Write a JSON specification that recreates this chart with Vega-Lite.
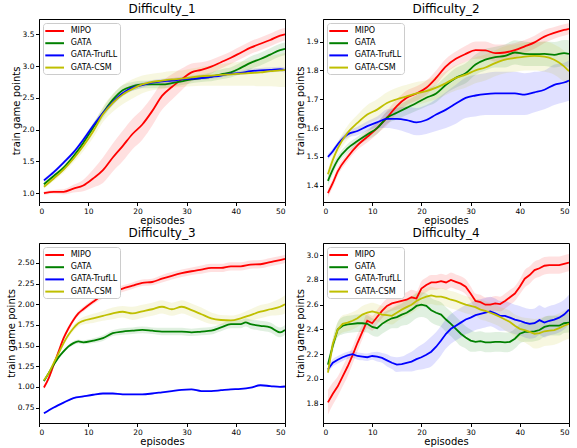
{
"$schema":"https://vega.github.io/schema/vega-lite/v6.json",
"padding":{"left":5,"top":2,"right":2,"bottom":0},
"background":"white",
"config":{
 "view":{"stroke":"black","strokeWidth":1},
 "font":"DejaVu Sans",
 "axis":{"labelFont":"DejaVu Sans","titleFont":"DejaVu Sans","labelFontSize":7.5,"titleFontSize":10,"titleFontWeight":"normal","domainColor":"black","tickColor":"black","labelColor":"black","titleColor":"black","grid":false,"tickSize":3.5,"labelPadding":1.5,"titlePadding":1,"labelOverlap":false},
 "title":{"font":"DejaVu Sans","fontSize":12,"fontWeight":"normal","offset":3,"color":"black"},
 "legend":{"orient":"top-left","offset":4,"fillColor":"white","strokeColor":"#cccccc","padding":2,"cornerRadius":3,"symbolType":"M-1.14,0L2.6,0","symbolSize":100,"symbolStrokeWidth":2,"labelFontSize":8,"labelFont":"DejaVu Sans","labelColor":"black","rowPadding":2.2,"labelOffset":13.7}
},
"datasets":{
"d1":[
{"m":"MIPO","e":1,"v":1.00,"lo":0.97,"hi":1.03},{"m":"MIPO","e":3,"v":1.02,"lo":0.99,"hi":1.05},{"m":"MIPO","e":5,"v":1.02,"lo":0.98,"hi":1.06},{"m":"MIPO","e":7,"v":1.07,"lo":1.01,"hi":1.13},{"m":"MIPO","e":9,"v":1.12,"lo":1.03,"hi":1.21},{"m":"MIPO","e":11,"v":1.23,"lo":1.09,"hi":1.37},{"m":"MIPO","e":13,"v":1.36,"lo":1.16,"hi":1.56},{"m":"MIPO","e":15,"v":1.56,"lo":1.34,"hi":1.78},{"m":"MIPO","e":17,"v":1.74,"lo":1.50,"hi":1.98},{"m":"MIPO","e":19,"v":1.93,"lo":1.69,"hi":2.17},{"m":"MIPO","e":21,"v":2.08,"lo":1.84,"hi":2.32},{"m":"MIPO","e":23,"v":2.29,"lo":2.06,"hi":2.52},{"m":"MIPO","e":25,"v":2.53,"lo":2.31,"hi":2.75},{"m":"MIPO","e":27,"v":2.67,"lo":2.47,"hi":2.87},{"m":"MIPO","e":29,"v":2.79,"lo":2.62,"hi":2.96},{"m":"MIPO","e":31,"v":2.90,"lo":2.76,"hi":3.04},{"m":"MIPO","e":33,"v":2.94,"lo":2.82,"hi":3.06},{"m":"MIPO","e":35,"v":2.99,"lo":2.88,"hi":3.10},{"m":"MIPO","e":37,"v":3.06,"lo":2.96,"hi":3.16},{"m":"MIPO","e":39,"v":3.13,"lo":3.03,"hi":3.23},{"m":"MIPO","e":41,"v":3.21,"lo":3.11,"hi":3.31},{"m":"MIPO","e":43,"v":3.29,"lo":3.19,"hi":3.39},{"m":"MIPO","e":45,"v":3.35,"lo":3.25,"hi":3.45},{"m":"MIPO","e":47,"v":3.41,"lo":3.31,"hi":3.51},{"m":"MIPO","e":49,"v":3.48,"lo":3.38,"hi":3.58},{"m":"MIPO","e":50,"v":3.50,"lo":3.40,"hi":3.60},
{"m":"GATA","e":1,"v":1.14,"lo":1.11,"hi":1.17},{"m":"GATA","e":3,"v":1.27,"lo":1.24,"hi":1.30},{"m":"GATA","e":5,"v":1.40,"lo":1.36,"hi":1.44},{"m":"GATA","e":7,"v":1.58,"lo":1.53,"hi":1.63},{"m":"GATA","e":9,"v":1.79,"lo":1.73,"hi":1.85},{"m":"GATA","e":11,"v":2.03,"lo":1.96,"hi":2.10},{"m":"GATA","e":13,"v":2.26,"lo":2.18,"hi":2.34},{"m":"GATA","e":15,"v":2.47,"lo":2.39,"hi":2.55},{"m":"GATA","e":17,"v":2.62,"lo":2.54,"hi":2.70},{"m":"GATA","e":19,"v":2.68,"lo":2.61,"hi":2.75},{"m":"GATA","e":21,"v":2.71,"lo":2.65,"hi":2.77},{"m":"GATA","e":23,"v":2.71,"lo":2.65,"hi":2.77},{"m":"GATA","e":25,"v":2.71,"lo":2.65,"hi":2.77},{"m":"GATA","e":27,"v":2.73,"lo":2.67,"hi":2.79},{"m":"GATA","e":29,"v":2.76,"lo":2.70,"hi":2.82},{"m":"GATA","e":31,"v":2.79,"lo":2.73,"hi":2.85},{"m":"GATA","e":33,"v":2.81,"lo":2.75,"hi":2.87},{"m":"GATA","e":35,"v":2.83,"lo":2.76,"hi":2.90},{"m":"GATA","e":37,"v":2.87,"lo":2.79,"hi":2.95},{"m":"GATA","e":39,"v":2.90,"lo":2.82,"hi":2.98},{"m":"GATA","e":41,"v":2.97,"lo":2.88,"hi":3.06},{"m":"GATA","e":43,"v":3.05,"lo":2.95,"hi":3.15},{"m":"GATA","e":45,"v":3.11,"lo":3.01,"hi":3.21},{"m":"GATA","e":47,"v":3.18,"lo":3.08,"hi":3.28},{"m":"GATA","e":49,"v":3.25,"lo":3.15,"hi":3.35},{"m":"GATA","e":50,"v":3.27,"lo":3.17,"hi":3.37},
{"m":"GATA-TrufLL","e":1,"v":1.20,"lo":1.17,"hi":1.23},{"m":"GATA-TrufLL","e":3,"v":1.33,"lo":1.30,"hi":1.36},{"m":"GATA-TrufLL","e":5,"v":1.48,"lo":1.45,"hi":1.51},{"m":"GATA-TrufLL","e":7,"v":1.64,"lo":1.61,"hi":1.67},{"m":"GATA-TrufLL","e":9,"v":1.84,"lo":1.80,"hi":1.88},{"m":"GATA-TrufLL","e":11,"v":2.06,"lo":2.02,"hi":2.10},{"m":"GATA-TrufLL","e":13,"v":2.26,"lo":2.22,"hi":2.30},{"m":"GATA-TrufLL","e":15,"v":2.43,"lo":2.38,"hi":2.48},{"m":"GATA-TrufLL","e":17,"v":2.57,"lo":2.52,"hi":2.62},{"m":"GATA-TrufLL","e":19,"v":2.66,"lo":2.61,"hi":2.71},{"m":"GATA-TrufLL","e":21,"v":2.70,"lo":2.66,"hi":2.74},{"m":"GATA-TrufLL","e":23,"v":2.74,"lo":2.70,"hi":2.78},{"m":"GATA-TrufLL","e":25,"v":2.76,"lo":2.72,"hi":2.80},{"m":"GATA-TrufLL","e":27,"v":2.77,"lo":2.73,"hi":2.81},{"m":"GATA-TrufLL","e":29,"v":2.79,"lo":2.75,"hi":2.83},{"m":"GATA-TrufLL","e":31,"v":2.80,"lo":2.77,"hi":2.83},{"m":"GATA-TrufLL","e":33,"v":2.81,"lo":2.78,"hi":2.84},{"m":"GATA-TrufLL","e":35,"v":2.83,"lo":2.80,"hi":2.86},{"m":"GATA-TrufLL","e":37,"v":2.85,"lo":2.82,"hi":2.88},{"m":"GATA-TrufLL","e":39,"v":2.88,"lo":2.85,"hi":2.91},{"m":"GATA-TrufLL","e":41,"v":2.89,"lo":2.86,"hi":2.92},{"m":"GATA-TrufLL","e":43,"v":2.92,"lo":2.88,"hi":2.96},{"m":"GATA-TrufLL","e":45,"v":2.93,"lo":2.89,"hi":2.97},{"m":"GATA-TrufLL","e":47,"v":2.94,"lo":2.90,"hi":2.98},{"m":"GATA-TrufLL","e":49,"v":2.95,"lo":2.91,"hi":2.99},{"m":"GATA-TrufLL","e":50,"v":2.94,"lo":2.90,"hi":2.98},
{"m":"GATA-CSM","e":1,"v":1.10,"lo":1.07,"hi":1.13},{"m":"GATA-CSM","e":3,"v":1.23,"lo":1.19,"hi":1.27},{"m":"GATA-CSM","e":5,"v":1.37,"lo":1.32,"hi":1.42},{"m":"GATA-CSM","e":7,"v":1.54,"lo":1.48,"hi":1.60},{"m":"GATA-CSM","e":9,"v":1.74,"lo":1.66,"hi":1.82},{"m":"GATA-CSM","e":11,"v":1.97,"lo":1.87,"hi":2.07},{"m":"GATA-CSM","e":13,"v":2.24,"lo":2.12,"hi":2.36},{"m":"GATA-CSM","e":15,"v":2.42,"lo":2.28,"hi":2.56},{"m":"GATA-CSM","e":17,"v":2.55,"lo":2.40,"hi":2.70},{"m":"GATA-CSM","e":19,"v":2.64,"lo":2.49,"hi":2.79},{"m":"GATA-CSM","e":21,"v":2.71,"lo":2.57,"hi":2.85},{"m":"GATA-CSM","e":23,"v":2.75,"lo":2.62,"hi":2.88},{"m":"GATA-CSM","e":25,"v":2.77,"lo":2.64,"hi":2.90},{"m":"GATA-CSM","e":27,"v":2.79,"lo":2.66,"hi":2.92},{"m":"GATA-CSM","e":29,"v":2.80,"lo":2.67,"hi":2.93},{"m":"GATA-CSM","e":31,"v":2.82,"lo":2.68,"hi":2.96},{"m":"GATA-CSM","e":33,"v":2.84,"lo":2.69,"hi":2.99},{"m":"GATA-CSM","e":35,"v":2.85,"lo":2.69,"hi":3.01},{"m":"GATA-CSM","e":37,"v":2.86,"lo":2.69,"hi":3.03},{"m":"GATA-CSM","e":39,"v":2.87,"lo":2.69,"hi":3.05},{"m":"GATA-CSM","e":41,"v":2.88,"lo":2.69,"hi":3.07},{"m":"GATA-CSM","e":43,"v":2.89,"lo":2.69,"hi":3.09},{"m":"GATA-CSM","e":45,"v":2.90,"lo":2.68,"hi":3.12},{"m":"GATA-CSM","e":47,"v":2.92,"lo":2.68,"hi":3.16},{"m":"GATA-CSM","e":49,"v":2.93,"lo":2.67,"hi":3.19},{"m":"GATA-CSM","e":50,"v":2.94,"lo":2.67,"hi":3.21}
],
"d2":[
{"m":"MIPO","e":1,"v":1.375,"lo":1.36,"hi":1.39},{"m":"MIPO","e":2,"v":1.41,"lo":1.395,"hi":1.425},{"m":"MIPO","e":3,"v":1.45,"lo":1.435,"hi":1.465},{"m":"MIPO","e":5,"v":1.50,"lo":1.485,"hi":1.515},{"m":"MIPO","e":7,"v":1.54,"lo":1.525,"hi":1.555},{"m":"MIPO","e":9,"v":1.57,"lo":1.55,"hi":1.59},{"m":"MIPO","e":11,"v":1.60,"lo":1.58,"hi":1.62},{"m":"MIPO","e":13,"v":1.636,"lo":1.61,"hi":1.66},{"m":"MIPO","e":15,"v":1.676,"lo":1.65,"hi":1.70},{"m":"MIPO","e":17,"v":1.705,"lo":1.68,"hi":1.73},{"m":"MIPO","e":19,"v":1.72,"lo":1.695,"hi":1.745},{"m":"MIPO","e":21,"v":1.74,"lo":1.715,"hi":1.765},{"m":"MIPO","e":23,"v":1.774,"lo":1.75,"hi":1.80},{"m":"MIPO","e":25,"v":1.814,"lo":1.79,"hi":1.84},{"m":"MIPO","e":27,"v":1.84,"lo":1.815,"hi":1.865},{"m":"MIPO","e":29,"v":1.857,"lo":1.83,"hi":1.885},{"m":"MIPO","e":31,"v":1.87,"lo":1.84,"hi":1.90},{"m":"MIPO","e":33,"v":1.869,"lo":1.84,"hi":1.90},{"m":"MIPO","e":35,"v":1.86,"lo":1.83,"hi":1.89},{"m":"MIPO","e":37,"v":1.862,"lo":1.835,"hi":1.89},{"m":"MIPO","e":39,"v":1.87,"lo":1.845,"hi":1.895},{"m":"MIPO","e":41,"v":1.883,"lo":1.86,"hi":1.905},{"m":"MIPO","e":43,"v":1.897,"lo":1.875,"hi":1.92},{"m":"MIPO","e":45,"v":1.917,"lo":1.895,"hi":1.94},{"m":"MIPO","e":47,"v":1.93,"lo":1.91,"hi":1.95},{"m":"MIPO","e":49,"v":1.94,"lo":1.92,"hi":1.96},{"m":"MIPO","e":50,"v":1.944,"lo":1.925,"hi":1.963},
{"m":"GATA","e":1,"v":1.417,"lo":1.40,"hi":1.435},{"m":"GATA","e":2,"v":1.457,"lo":1.44,"hi":1.475},{"m":"GATA","e":3,"v":1.49,"lo":1.475,"hi":1.505},{"m":"GATA","e":5,"v":1.53,"lo":1.515,"hi":1.545},{"m":"GATA","e":7,"v":1.555,"lo":1.54,"hi":1.57},{"m":"GATA","e":9,"v":1.578,"lo":1.56,"hi":1.595},{"m":"GATA","e":11,"v":1.60,"lo":1.58,"hi":1.62},{"m":"GATA","e":13,"v":1.636,"lo":1.615,"hi":1.657},{"m":"GATA","e":15,"v":1.653,"lo":1.63,"hi":1.676},{"m":"GATA","e":17,"v":1.67,"lo":1.645,"hi":1.695},{"m":"GATA","e":19,"v":1.687,"lo":1.66,"hi":1.714},{"m":"GATA","e":21,"v":1.705,"lo":1.675,"hi":1.735},{"m":"GATA","e":23,"v":1.72,"lo":1.69,"hi":1.75},{"m":"GATA","e":25,"v":1.75,"lo":1.72,"hi":1.78},{"m":"GATA","e":27,"v":1.774,"lo":1.74,"hi":1.808},{"m":"GATA","e":29,"v":1.79,"lo":1.755,"hi":1.825},{"m":"GATA","e":31,"v":1.82,"lo":1.785,"hi":1.855},{"m":"GATA","e":33,"v":1.837,"lo":1.80,"hi":1.874},{"m":"GATA","e":35,"v":1.846,"lo":1.81,"hi":1.882},{"m":"GATA","e":37,"v":1.85,"lo":1.81,"hi":1.89},{"m":"GATA","e":39,"v":1.862,"lo":1.82,"hi":1.904},{"m":"GATA","e":41,"v":1.857,"lo":1.815,"hi":1.90},{"m":"GATA","e":43,"v":1.856,"lo":1.815,"hi":1.897},{"m":"GATA","e":45,"v":1.857,"lo":1.815,"hi":1.90},{"m":"GATA","e":47,"v":1.854,"lo":1.81,"hi":1.898},{"m":"GATA","e":49,"v":1.86,"lo":1.815,"hi":1.905},{"m":"GATA","e":50,"v":1.857,"lo":1.81,"hi":1.904},
{"m":"GATA-TrufLL","e":1,"v":1.50,"lo":1.49,"hi":1.51},{"m":"GATA-TrufLL","e":2,"v":1.52,"lo":1.51,"hi":1.53},{"m":"GATA-TrufLL","e":3,"v":1.544,"lo":1.534,"hi":1.554},{"m":"GATA-TrufLL","e":5,"v":1.578,"lo":1.566,"hi":1.59},{"m":"GATA-TrufLL","e":7,"v":1.59,"lo":1.575,"hi":1.605},{"m":"GATA-TrufLL","e":9,"v":1.607,"lo":1.59,"hi":1.624},{"m":"GATA-TrufLL","e":11,"v":1.62,"lo":1.60,"hi":1.64},{"m":"GATA-TrufLL","e":13,"v":1.632,"lo":1.60,"hi":1.665},{"m":"GATA-TrufLL","e":15,"v":1.632,"lo":1.595,"hi":1.67},{"m":"GATA-TrufLL","e":17,"v":1.628,"lo":1.585,"hi":1.675},{"m":"GATA-TrufLL","e":19,"v":1.62,"lo":1.575,"hi":1.67},{"m":"GATA-TrufLL","e":21,"v":1.628,"lo":1.58,"hi":1.68},{"m":"GATA-TrufLL","e":23,"v":1.647,"lo":1.59,"hi":1.70},{"m":"GATA-TrufLL","e":25,"v":1.664,"lo":1.60,"hi":1.725},{"m":"GATA-TrufLL","e":27,"v":1.685,"lo":1.615,"hi":1.75},{"m":"GATA-TrufLL","e":29,"v":1.705,"lo":1.635,"hi":1.775},{"m":"GATA-TrufLL","e":31,"v":1.713,"lo":1.64,"hi":1.785},{"m":"GATA-TrufLL","e":33,"v":1.718,"lo":1.645,"hi":1.79},{"m":"GATA-TrufLL","e":35,"v":1.72,"lo":1.645,"hi":1.795},{"m":"GATA-TrufLL","e":37,"v":1.72,"lo":1.645,"hi":1.795},{"m":"GATA-TrufLL","e":39,"v":1.72,"lo":1.645,"hi":1.795},{"m":"GATA-TrufLL","e":41,"v":1.716,"lo":1.645,"hi":1.79},{"m":"GATA-TrufLL","e":43,"v":1.724,"lo":1.655,"hi":1.795},{"m":"GATA-TrufLL","e":45,"v":1.733,"lo":1.665,"hi":1.80},{"m":"GATA-TrufLL","e":47,"v":1.75,"lo":1.68,"hi":1.82},{"m":"GATA-TrufLL","e":49,"v":1.758,"lo":1.69,"hi":1.826},{"m":"GATA-TrufLL","e":50,"v":1.765,"lo":1.695,"hi":1.835},
{"m":"GATA-CSM","e":1,"v":1.44,"lo":1.425,"hi":1.455},{"m":"GATA-CSM","e":2,"v":1.49,"lo":1.47,"hi":1.51},{"m":"GATA-CSM","e":3,"v":1.53,"lo":1.51,"hi":1.55},{"m":"GATA-CSM","e":5,"v":1.584,"lo":1.56,"hi":1.608},{"m":"GATA-CSM","e":7,"v":1.618,"lo":1.59,"hi":1.646},{"m":"GATA-CSM","e":9,"v":1.647,"lo":1.615,"hi":1.68},{"m":"GATA-CSM","e":11,"v":1.664,"lo":1.63,"hi":1.70},{"m":"GATA-CSM","e":13,"v":1.687,"lo":1.65,"hi":1.724},{"m":"GATA-CSM","e":15,"v":1.70,"lo":1.66,"hi":1.74},{"m":"GATA-CSM","e":17,"v":1.71,"lo":1.67,"hi":1.75},{"m":"GATA-CSM","e":19,"v":1.72,"lo":1.68,"hi":1.76},{"m":"GATA-CSM","e":21,"v":1.728,"lo":1.69,"hi":1.766},{"m":"GATA-CSM","e":23,"v":1.74,"lo":1.70,"hi":1.78},{"m":"GATA-CSM","e":25,"v":1.756,"lo":1.715,"hi":1.797},{"m":"GATA-CSM","e":27,"v":1.774,"lo":1.73,"hi":1.818},{"m":"GATA-CSM","e":29,"v":1.785,"lo":1.74,"hi":1.83},{"m":"GATA-CSM","e":31,"v":1.80,"lo":1.755,"hi":1.845},{"m":"GATA-CSM","e":33,"v":1.81,"lo":1.765,"hi":1.855},{"m":"GATA-CSM","e":35,"v":1.825,"lo":1.78,"hi":1.87},{"m":"GATA-CSM","e":37,"v":1.837,"lo":1.79,"hi":1.884},{"m":"GATA-CSM","e":39,"v":1.843,"lo":1.795,"hi":1.89},{"m":"GATA-CSM","e":41,"v":1.848,"lo":1.80,"hi":1.896},{"m":"GATA-CSM","e":43,"v":1.85,"lo":1.80,"hi":1.90},{"m":"GATA-CSM","e":45,"v":1.848,"lo":1.795,"hi":1.90},{"m":"GATA-CSM","e":47,"v":1.837,"lo":1.785,"hi":1.89},{"m":"GATA-CSM","e":49,"v":1.814,"lo":1.76,"hi":1.868},{"m":"GATA-CSM","e":50,"v":1.797,"lo":1.745,"hi":1.85}
],
"d3":[
{"m":"MIPO","e":1,"v":0.993,"lo":0.97,"hi":1.02},{"m":"MIPO","e":2,"v":1.11,"lo":1.085,"hi":1.135},{"m":"MIPO","e":3,"v":1.27,"lo":1.24,"hi":1.30},{"m":"MIPO","e":4,"v":1.43,"lo":1.40,"hi":1.46},{"m":"MIPO","e":5,"v":1.59,"lo":1.56,"hi":1.62},{"m":"MIPO","e":6,"v":1.71,"lo":1.68,"hi":1.74},{"m":"MIPO","e":7,"v":1.81,"lo":1.78,"hi":1.84},{"m":"MIPO","e":8,"v":1.89,"lo":1.86,"hi":1.92},{"m":"MIPO","e":9,"v":1.94,"lo":1.91,"hi":1.97},{"m":"MIPO","e":11,"v":2.03,"lo":2.00,"hi":2.06},{"m":"MIPO","e":13,"v":2.11,"lo":2.07,"hi":2.15},{"m":"MIPO","e":15,"v":2.15,"lo":2.11,"hi":2.19},{"m":"MIPO","e":17,"v":2.19,"lo":2.15,"hi":2.23},{"m":"MIPO","e":19,"v":2.225,"lo":2.185,"hi":2.265},{"m":"MIPO","e":21,"v":2.26,"lo":2.22,"hi":2.30},{"m":"MIPO","e":23,"v":2.27,"lo":2.23,"hi":2.31},{"m":"MIPO","e":25,"v":2.31,"lo":2.265,"hi":2.355},{"m":"MIPO","e":27,"v":2.345,"lo":2.30,"hi":2.39},{"m":"MIPO","e":29,"v":2.376,"lo":2.33,"hi":2.42},{"m":"MIPO","e":31,"v":2.40,"lo":2.355,"hi":2.445},{"m":"MIPO","e":33,"v":2.42,"lo":2.37,"hi":2.47},{"m":"MIPO","e":35,"v":2.44,"lo":2.39,"hi":2.49},{"m":"MIPO","e":37,"v":2.44,"lo":2.39,"hi":2.49},{"m":"MIPO","e":39,"v":2.46,"lo":2.41,"hi":2.51},{"m":"MIPO","e":41,"v":2.46,"lo":2.41,"hi":2.51},{"m":"MIPO","e":43,"v":2.48,"lo":2.43,"hi":2.53},{"m":"MIPO","e":45,"v":2.485,"lo":2.435,"hi":2.535},{"m":"MIPO","e":47,"v":2.51,"lo":2.46,"hi":2.56},{"m":"MIPO","e":49,"v":2.535,"lo":2.485,"hi":2.585},{"m":"MIPO","e":50,"v":2.55,"lo":2.50,"hi":2.60},
{"m":"GATA","e":1,"v":1.07,"lo":1.05,"hi":1.09},{"m":"GATA","e":2,"v":1.17,"lo":1.15,"hi":1.19},{"m":"GATA","e":3,"v":1.27,"lo":1.25,"hi":1.29},{"m":"GATA","e":4,"v":1.36,"lo":1.34,"hi":1.38},{"m":"GATA","e":5,"v":1.43,"lo":1.41,"hi":1.45},{"m":"GATA","e":6,"v":1.49,"lo":1.47,"hi":1.51},{"m":"GATA","e":7,"v":1.53,"lo":1.505,"hi":1.555},{"m":"GATA","e":8,"v":1.55,"lo":1.525,"hi":1.575},{"m":"GATA","e":9,"v":1.54,"lo":1.515,"hi":1.565},{"m":"GATA","e":11,"v":1.56,"lo":1.53,"hi":1.59},{"m":"GATA","e":13,"v":1.59,"lo":1.555,"hi":1.625},{"m":"GATA","e":15,"v":1.65,"lo":1.615,"hi":1.685},{"m":"GATA","e":17,"v":1.67,"lo":1.63,"hi":1.71},{"m":"GATA","e":19,"v":1.68,"lo":1.64,"hi":1.72},{"m":"GATA","e":21,"v":1.69,"lo":1.65,"hi":1.73},{"m":"GATA","e":23,"v":1.68,"lo":1.64,"hi":1.72},{"m":"GATA","e":25,"v":1.67,"lo":1.625,"hi":1.715},{"m":"GATA","e":27,"v":1.67,"lo":1.625,"hi":1.715},{"m":"GATA","e":29,"v":1.67,"lo":1.625,"hi":1.715},{"m":"GATA","e":31,"v":1.66,"lo":1.615,"hi":1.705},{"m":"GATA","e":33,"v":1.67,"lo":1.625,"hi":1.715},{"m":"GATA","e":35,"v":1.68,"lo":1.635,"hi":1.725},{"m":"GATA","e":37,"v":1.72,"lo":1.675,"hi":1.765},{"m":"GATA","e":39,"v":1.76,"lo":1.71,"hi":1.81},{"m":"GATA","e":41,"v":1.76,"lo":1.71,"hi":1.81},{"m":"GATA","e":42,"v":1.78,"lo":1.73,"hi":1.83},{"m":"GATA","e":43,"v":1.76,"lo":1.705,"hi":1.815},{"m":"GATA","e":45,"v":1.74,"lo":1.68,"hi":1.80},{"m":"GATA","e":47,"v":1.72,"lo":1.66,"hi":1.78},{"m":"GATA","e":49,"v":1.66,"lo":1.60,"hi":1.72},{"m":"GATA","e":50,"v":1.69,"lo":1.63,"hi":1.75},
{"m":"GATA-TrufLL","e":1,"v":0.68,"lo":0.67,"hi":0.69},{"m":"GATA-TrufLL","e":3,"v":0.75,"lo":0.74,"hi":0.76},{"m":"GATA-TrufLL","e":5,"v":0.81,"lo":0.80,"hi":0.82},{"m":"GATA-TrufLL","e":7,"v":0.865,"lo":0.855,"hi":0.875},{"m":"GATA-TrufLL","e":9,"v":0.885,"lo":0.875,"hi":0.895},{"m":"GATA-TrufLL","e":11,"v":0.905,"lo":0.895,"hi":0.915},{"m":"GATA-TrufLL","e":13,"v":0.92,"lo":0.91,"hi":0.93},{"m":"GATA-TrufLL","e":15,"v":0.92,"lo":0.91,"hi":0.93},{"m":"GATA-TrufLL","e":17,"v":0.91,"lo":0.90,"hi":0.92},{"m":"GATA-TrufLL","e":19,"v":0.91,"lo":0.90,"hi":0.92},{"m":"GATA-TrufLL","e":21,"v":0.91,"lo":0.90,"hi":0.92},{"m":"GATA-TrufLL","e":23,"v":0.92,"lo":0.91,"hi":0.93},{"m":"GATA-TrufLL","e":25,"v":0.935,"lo":0.925,"hi":0.945},{"m":"GATA-TrufLL","e":27,"v":0.95,"lo":0.94,"hi":0.96},{"m":"GATA-TrufLL","e":29,"v":0.965,"lo":0.955,"hi":0.975},{"m":"GATA-TrufLL","e":31,"v":0.97,"lo":0.96,"hi":0.98},{"m":"GATA-TrufLL","e":33,"v":0.95,"lo":0.94,"hi":0.96},{"m":"GATA-TrufLL","e":35,"v":0.95,"lo":0.94,"hi":0.96},{"m":"GATA-TrufLL","e":37,"v":0.96,"lo":0.95,"hi":0.97},{"m":"GATA-TrufLL","e":39,"v":0.97,"lo":0.96,"hi":0.98},{"m":"GATA-TrufLL","e":41,"v":0.975,"lo":0.965,"hi":0.985},{"m":"GATA-TrufLL","e":43,"v":0.99,"lo":0.98,"hi":1.00},{"m":"GATA-TrufLL","e":45,"v":1.02,"lo":1.01,"hi":1.03},{"m":"GATA-TrufLL","e":47,"v":1.01,"lo":1.00,"hi":1.02},{"m":"GATA-TrufLL","e":49,"v":1.00,"lo":0.99,"hi":1.01},{"m":"GATA-TrufLL","e":50,"v":1.005,"lo":0.995,"hi":1.015},
{"m":"GATA-CSM","e":1,"v":1.08,"lo":1.06,"hi":1.10},{"m":"GATA-CSM","e":2,"v":1.17,"lo":1.15,"hi":1.19},{"m":"GATA-CSM","e":3,"v":1.29,"lo":1.27,"hi":1.31},{"m":"GATA-CSM","e":4,"v":1.41,"lo":1.39,"hi":1.43},{"m":"GATA-CSM","e":5,"v":1.53,"lo":1.50,"hi":1.56},{"m":"GATA-CSM","e":6,"v":1.63,"lo":1.60,"hi":1.66},{"m":"GATA-CSM","e":7,"v":1.71,"lo":1.675,"hi":1.745},{"m":"GATA-CSM","e":8,"v":1.77,"lo":1.73,"hi":1.81},{"m":"GATA-CSM","e":9,"v":1.80,"lo":1.755,"hi":1.845},{"m":"GATA-CSM","e":11,"v":1.83,"lo":1.775,"hi":1.885},{"m":"GATA-CSM","e":13,"v":1.86,"lo":1.80,"hi":1.92},{"m":"GATA-CSM","e":15,"v":1.89,"lo":1.82,"hi":1.96},{"m":"GATA-CSM","e":17,"v":1.91,"lo":1.84,"hi":1.98},{"m":"GATA-CSM","e":19,"v":1.89,"lo":1.81,"hi":1.97},{"m":"GATA-CSM","e":21,"v":1.915,"lo":1.835,"hi":1.995},{"m":"GATA-CSM","e":23,"v":1.94,"lo":1.86,"hi":2.02},{"m":"GATA-CSM","e":25,"v":1.97,"lo":1.89,"hi":2.05},{"m":"GATA-CSM","e":27,"v":1.94,"lo":1.86,"hi":2.02},{"m":"GATA-CSM","e":29,"v":1.97,"lo":1.89,"hi":2.05},{"m":"GATA-CSM","e":31,"v":1.93,"lo":1.85,"hi":2.01},{"m":"GATA-CSM","e":33,"v":1.88,"lo":1.80,"hi":1.96},{"m":"GATA-CSM","e":35,"v":1.83,"lo":1.76,"hi":1.90},{"m":"GATA-CSM","e":37,"v":1.81,"lo":1.75,"hi":1.87},{"m":"GATA-CSM","e":39,"v":1.805,"lo":1.745,"hi":1.865},{"m":"GATA-CSM","e":41,"v":1.83,"lo":1.77,"hi":1.89},{"m":"GATA-CSM","e":43,"v":1.87,"lo":1.80,"hi":1.94},{"m":"GATA-CSM","e":45,"v":1.91,"lo":1.83,"hi":1.99},{"m":"GATA-CSM","e":47,"v":1.94,"lo":1.86,"hi":2.02},{"m":"GATA-CSM","e":49,"v":1.97,"lo":1.87,"hi":2.07},{"m":"GATA-CSM","e":50,"v":2.00,"lo":1.89,"hi":2.11}
],
"d4":[
{"m":"MIPO","e":1,"v":1.81,"lo":1.71,"hi":1.91},{"m":"MIPO","e":2,"v":1.88,"lo":1.79,"hi":1.97},{"m":"MIPO","e":3,"v":1.94,"lo":1.86,"hi":2.02},{"m":"MIPO","e":4,"v":2.02,"lo":1.94,"hi":2.10},{"m":"MIPO","e":5,"v":2.10,"lo":2.02,"hi":2.18},{"m":"MIPO","e":6,"v":2.19,"lo":2.12,"hi":2.26},{"m":"MIPO","e":7,"v":2.29,"lo":2.22,"hi":2.36},{"m":"MIPO","e":8,"v":2.38,"lo":2.32,"hi":2.44},{"m":"MIPO","e":9,"v":2.47,"lo":2.41,"hi":2.53},{"m":"MIPO","e":10,"v":2.45,"lo":2.39,"hi":2.51},{"m":"MIPO","e":11,"v":2.50,"lo":2.44,"hi":2.56},{"m":"MIPO","e":12,"v":2.55,"lo":2.49,"hi":2.61},{"m":"MIPO","e":13,"v":2.59,"lo":2.53,"hi":2.65},{"m":"MIPO","e":14,"v":2.61,"lo":2.55,"hi":2.67},{"m":"MIPO","e":15,"v":2.62,"lo":2.56,"hi":2.68},{"m":"MIPO","e":16,"v":2.63,"lo":2.57,"hi":2.69},{"m":"MIPO","e":17,"v":2.64,"lo":2.58,"hi":2.70},{"m":"MIPO","e":18,"v":2.66,"lo":2.60,"hi":2.72},{"m":"MIPO","e":19,"v":2.65,"lo":2.59,"hi":2.71},{"m":"MIPO","e":20,"v":2.73,"lo":2.67,"hi":2.79},{"m":"MIPO","e":21,"v":2.76,"lo":2.70,"hi":2.82},{"m":"MIPO","e":22,"v":2.78,"lo":2.72,"hi":2.84},{"m":"MIPO","e":23,"v":2.78,"lo":2.72,"hi":2.84},{"m":"MIPO","e":24,"v":2.79,"lo":2.73,"hi":2.85},{"m":"MIPO","e":25,"v":2.78,"lo":2.72,"hi":2.84},{"m":"MIPO","e":26,"v":2.80,"lo":2.74,"hi":2.86},{"m":"MIPO","e":27,"v":2.785,"lo":2.725,"hi":2.845},{"m":"MIPO","e":28,"v":2.77,"lo":2.71,"hi":2.83},{"m":"MIPO","e":29,"v":2.745,"lo":2.685,"hi":2.805},{"m":"MIPO","e":30,"v":2.69,"lo":2.63,"hi":2.75},{"m":"MIPO","e":31,"v":2.63,"lo":2.57,"hi":2.69},{"m":"MIPO","e":32,"v":2.62,"lo":2.56,"hi":2.68},{"m":"MIPO","e":33,"v":2.60,"lo":2.54,"hi":2.66},{"m":"MIPO","e":34,"v":2.60,"lo":2.54,"hi":2.66},{"m":"MIPO","e":35,"v":2.61,"lo":2.55,"hi":2.67},{"m":"MIPO","e":36,"v":2.605,"lo":2.545,"hi":2.665},{"m":"MIPO","e":37,"v":2.63,"lo":2.57,"hi":2.69},{"m":"MIPO","e":38,"v":2.66,"lo":2.60,"hi":2.72},{"m":"MIPO","e":39,"v":2.69,"lo":2.63,"hi":2.75},{"m":"MIPO","e":40,"v":2.745,"lo":2.685,"hi":2.805},{"m":"MIPO","e":41,"v":2.81,"lo":2.74,"hi":2.88},{"m":"MIPO","e":42,"v":2.84,"lo":2.77,"hi":2.91},{"m":"MIPO","e":43,"v":2.88,"lo":2.81,"hi":2.95},{"m":"MIPO","e":44,"v":2.895,"lo":2.825,"hi":2.965},{"m":"MIPO","e":45,"v":2.915,"lo":2.845,"hi":2.985},{"m":"MIPO","e":46,"v":2.92,"lo":2.85,"hi":2.99},{"m":"MIPO","e":47,"v":2.92,"lo":2.85,"hi":2.99},{"m":"MIPO","e":48,"v":2.92,"lo":2.85,"hi":2.99},{"m":"MIPO","e":49,"v":2.93,"lo":2.86,"hi":3.00},{"m":"MIPO","e":50,"v":2.94,"lo":2.87,"hi":3.01},
{"m":"GATA","e":1,"v":2.115,"lo":2.075,"hi":2.155},{"m":"GATA","e":2,"v":2.27,"lo":2.22,"hi":2.32},{"m":"GATA","e":3,"v":2.40,"lo":2.34,"hi":2.46},{"m":"GATA","e":4,"v":2.43,"lo":2.36,"hi":2.50},{"m":"GATA","e":5,"v":2.44,"lo":2.37,"hi":2.51},{"m":"GATA","e":6,"v":2.445,"lo":2.375,"hi":2.515},{"m":"GATA","e":7,"v":2.45,"lo":2.38,"hi":2.52},{"m":"GATA","e":8,"v":2.45,"lo":2.38,"hi":2.52},{"m":"GATA","e":9,"v":2.445,"lo":2.375,"hi":2.515},{"m":"GATA","e":10,"v":2.42,"lo":2.35,"hi":2.49},{"m":"GATA","e":11,"v":2.41,"lo":2.34,"hi":2.48},{"m":"GATA","e":12,"v":2.445,"lo":2.365,"hi":2.525},{"m":"GATA","e":13,"v":2.47,"lo":2.39,"hi":2.55},{"m":"GATA","e":14,"v":2.49,"lo":2.41,"hi":2.57},{"m":"GATA","e":15,"v":2.50,"lo":2.41,"hi":2.59},{"m":"GATA","e":16,"v":2.52,"lo":2.43,"hi":2.61},{"m":"GATA","e":17,"v":2.535,"lo":2.435,"hi":2.635},{"m":"GATA","e":18,"v":2.56,"lo":2.46,"hi":2.66},{"m":"GATA","e":19,"v":2.59,"lo":2.49,"hi":2.69},{"m":"GATA","e":20,"v":2.60,"lo":2.50,"hi":2.70},{"m":"GATA","e":21,"v":2.59,"lo":2.49,"hi":2.69},{"m":"GATA","e":22,"v":2.555,"lo":2.455,"hi":2.655},{"m":"GATA","e":23,"v":2.535,"lo":2.435,"hi":2.635},{"m":"GATA","e":24,"v":2.52,"lo":2.42,"hi":2.62},{"m":"GATA","e":25,"v":2.48,"lo":2.38,"hi":2.58},{"m":"GATA","e":26,"v":2.445,"lo":2.345,"hi":2.545},{"m":"GATA","e":27,"v":2.405,"lo":2.305,"hi":2.505},{"m":"GATA","e":28,"v":2.365,"lo":2.265,"hi":2.465},{"m":"GATA","e":29,"v":2.335,"lo":2.245,"hi":2.425},{"m":"GATA","e":30,"v":2.31,"lo":2.22,"hi":2.40},{"m":"GATA","e":31,"v":2.30,"lo":2.22,"hi":2.38},{"m":"GATA","e":32,"v":2.305,"lo":2.225,"hi":2.385},{"m":"GATA","e":33,"v":2.295,"lo":2.215,"hi":2.375},{"m":"GATA","e":34,"v":2.295,"lo":2.215,"hi":2.375},{"m":"GATA","e":35,"v":2.30,"lo":2.22,"hi":2.38},{"m":"GATA","e":36,"v":2.30,"lo":2.22,"hi":2.38},{"m":"GATA","e":37,"v":2.295,"lo":2.215,"hi":2.375},{"m":"GATA","e":38,"v":2.30,"lo":2.22,"hi":2.38},{"m":"GATA","e":39,"v":2.325,"lo":2.245,"hi":2.405},{"m":"GATA","e":40,"v":2.365,"lo":2.285,"hi":2.445},{"m":"GATA","e":41,"v":2.38,"lo":2.30,"hi":2.46},{"m":"GATA","e":42,"v":2.38,"lo":2.30,"hi":2.46},{"m":"GATA","e":43,"v":2.385,"lo":2.305,"hi":2.465},{"m":"GATA","e":44,"v":2.395,"lo":2.315,"hi":2.475},{"m":"GATA","e":45,"v":2.42,"lo":2.34,"hi":2.50},{"m":"GATA","e":46,"v":2.43,"lo":2.35,"hi":2.51},{"m":"GATA","e":47,"v":2.43,"lo":2.35,"hi":2.51},{"m":"GATA","e":48,"v":2.43,"lo":2.35,"hi":2.51},{"m":"GATA","e":49,"v":2.45,"lo":2.37,"hi":2.53},{"m":"GATA","e":50,"v":2.455,"lo":2.375,"hi":2.535},
{"m":"GATA-TrufLL","e":1,"v":2.075,"lo":2.045,"hi":2.105},{"m":"GATA-TrufLL","e":2,"v":2.13,"lo":2.10,"hi":2.16},{"m":"GATA-TrufLL","e":3,"v":2.155,"lo":2.125,"hi":2.185},{"m":"GATA-TrufLL","e":4,"v":2.175,"lo":2.145,"hi":2.205},{"m":"GATA-TrufLL","e":5,"v":2.19,"lo":2.16,"hi":2.22},{"m":"GATA-TrufLL","e":6,"v":2.20,"lo":2.17,"hi":2.23},{"m":"GATA-TrufLL","e":7,"v":2.185,"lo":2.155,"hi":2.215},{"m":"GATA-TrufLL","e":8,"v":2.18,"lo":2.15,"hi":2.21},{"m":"GATA-TrufLL","e":9,"v":2.175,"lo":2.145,"hi":2.205},{"m":"GATA-TrufLL","e":10,"v":2.185,"lo":2.155,"hi":2.215},{"m":"GATA-TrufLL","e":11,"v":2.18,"lo":2.14,"hi":2.22},{"m":"GATA-TrufLL","e":12,"v":2.17,"lo":2.13,"hi":2.21},{"m":"GATA-TrufLL","e":13,"v":2.15,"lo":2.10,"hi":2.20},{"m":"GATA-TrufLL","e":14,"v":2.13,"lo":2.08,"hi":2.18},{"m":"GATA-TrufLL","e":15,"v":2.115,"lo":2.055,"hi":2.175},{"m":"GATA-TrufLL","e":16,"v":2.12,"lo":2.06,"hi":2.18},{"m":"GATA-TrufLL","e":17,"v":2.13,"lo":2.06,"hi":2.20},{"m":"GATA-TrufLL","e":18,"v":2.14,"lo":2.06,"hi":2.22},{"m":"GATA-TrufLL","e":19,"v":2.16,"lo":2.07,"hi":2.25},{"m":"GATA-TrufLL","e":20,"v":2.175,"lo":2.075,"hi":2.275},{"m":"GATA-TrufLL","e":21,"v":2.195,"lo":2.085,"hi":2.305},{"m":"GATA-TrufLL","e":22,"v":2.22,"lo":2.10,"hi":2.34},{"m":"GATA-TrufLL","e":23,"v":2.26,"lo":2.14,"hi":2.38},{"m":"GATA-TrufLL","e":24,"v":2.31,"lo":2.19,"hi":2.43},{"m":"GATA-TrufLL","e":25,"v":2.365,"lo":2.245,"hi":2.485},{"m":"GATA-TrufLL","e":26,"v":2.405,"lo":2.285,"hi":2.525},{"m":"GATA-TrufLL","e":27,"v":2.43,"lo":2.31,"hi":2.55},{"m":"GATA-TrufLL","e":28,"v":2.455,"lo":2.335,"hi":2.575},{"m":"GATA-TrufLL","e":29,"v":2.48,"lo":2.36,"hi":2.60},{"m":"GATA-TrufLL","e":30,"v":2.495,"lo":2.375,"hi":2.615},{"m":"GATA-TrufLL","e":31,"v":2.515,"lo":2.395,"hi":2.635},{"m":"GATA-TrufLL","e":32,"v":2.525,"lo":2.405,"hi":2.645},{"m":"GATA-TrufLL","e":33,"v":2.535,"lo":2.415,"hi":2.655},{"m":"GATA-TrufLL","e":34,"v":2.545,"lo":2.425,"hi":2.665},{"m":"GATA-TrufLL","e":35,"v":2.53,"lo":2.41,"hi":2.65},{"m":"GATA-TrufLL","e":36,"v":2.51,"lo":2.39,"hi":2.63},{"m":"GATA-TrufLL","e":37,"v":2.51,"lo":2.39,"hi":2.63},{"m":"GATA-TrufLL","e":38,"v":2.495,"lo":2.375,"hi":2.615},{"m":"GATA-TrufLL","e":39,"v":2.48,"lo":2.36,"hi":2.60},{"m":"GATA-TrufLL","e":40,"v":2.47,"lo":2.35,"hi":2.59},{"m":"GATA-TrufLL","e":41,"v":2.455,"lo":2.335,"hi":2.575},{"m":"GATA-TrufLL","e":42,"v":2.445,"lo":2.325,"hi":2.565},{"m":"GATA-TrufLL","e":43,"v":2.45,"lo":2.33,"hi":2.57},{"m":"GATA-TrufLL","e":44,"v":2.475,"lo":2.355,"hi":2.595},{"m":"GATA-TrufLL","e":45,"v":2.455,"lo":2.335,"hi":2.575},{"m":"GATA-TrufLL","e":46,"v":2.47,"lo":2.35,"hi":2.59},{"m":"GATA-TrufLL","e":47,"v":2.48,"lo":2.36,"hi":2.60},{"m":"GATA-TrufLL","e":48,"v":2.495,"lo":2.375,"hi":2.615},{"m":"GATA-TrufLL","e":49,"v":2.52,"lo":2.40,"hi":2.64},{"m":"GATA-TrufLL","e":50,"v":2.56,"lo":2.44,"hi":2.68},
{"m":"GATA-CSM","e":1,"v":2.05,"lo":2.02,"hi":2.08},{"m":"GATA-CSM","e":2,"v":2.285,"lo":2.235,"hi":2.335},{"m":"GATA-CSM","e":3,"v":2.40,"lo":2.34,"hi":2.46},{"m":"GATA-CSM","e":4,"v":2.445,"lo":2.375,"hi":2.515},{"m":"GATA-CSM","e":5,"v":2.455,"lo":2.385,"hi":2.525},{"m":"GATA-CSM","e":6,"v":2.47,"lo":2.40,"hi":2.54},{"m":"GATA-CSM","e":7,"v":2.49,"lo":2.42,"hi":2.56},{"m":"GATA-CSM","e":8,"v":2.52,"lo":2.45,"hi":2.59},{"m":"GATA-CSM","e":9,"v":2.535,"lo":2.465,"hi":2.605},{"m":"GATA-CSM","e":10,"v":2.545,"lo":2.475,"hi":2.615},{"m":"GATA-CSM","e":11,"v":2.535,"lo":2.465,"hi":2.605},{"m":"GATA-CSM","e":12,"v":2.52,"lo":2.45,"hi":2.59},{"m":"GATA-CSM","e":13,"v":2.515,"lo":2.445,"hi":2.585},{"m":"GATA-CSM","e":14,"v":2.51,"lo":2.44,"hi":2.58},{"m":"GATA-CSM","e":15,"v":2.535,"lo":2.465,"hi":2.605},{"m":"GATA-CSM","e":16,"v":2.56,"lo":2.49,"hi":2.63},{"m":"GATA-CSM","e":17,"v":2.58,"lo":2.51,"hi":2.65},{"m":"GATA-CSM","e":18,"v":2.60,"lo":2.53,"hi":2.67},{"m":"GATA-CSM","e":19,"v":2.63,"lo":2.56,"hi":2.70},{"m":"GATA-CSM","e":20,"v":2.65,"lo":2.58,"hi":2.72},{"m":"GATA-CSM","e":21,"v":2.665,"lo":2.595,"hi":2.735},{"m":"GATA-CSM","e":22,"v":2.675,"lo":2.605,"hi":2.745},{"m":"GATA-CSM","e":23,"v":2.665,"lo":2.595,"hi":2.735},{"m":"GATA-CSM","e":24,"v":2.665,"lo":2.595,"hi":2.735},{"m":"GATA-CSM","e":25,"v":2.655,"lo":2.585,"hi":2.725},{"m":"GATA-CSM","e":26,"v":2.64,"lo":2.57,"hi":2.71},{"m":"GATA-CSM","e":27,"v":2.63,"lo":2.56,"hi":2.70},{"m":"GATA-CSM","e":28,"v":2.615,"lo":2.545,"hi":2.685},{"m":"GATA-CSM","e":29,"v":2.60,"lo":2.53,"hi":2.67},{"m":"GATA-CSM","e":30,"v":2.59,"lo":2.52,"hi":2.66},{"m":"GATA-CSM","e":31,"v":2.58,"lo":2.51,"hi":2.65},{"m":"GATA-CSM","e":32,"v":2.56,"lo":2.48,"hi":2.64},{"m":"GATA-CSM","e":33,"v":2.55,"lo":2.47,"hi":2.63},{"m":"GATA-CSM","e":34,"v":2.535,"lo":2.455,"hi":2.615},{"m":"GATA-CSM","e":35,"v":2.52,"lo":2.44,"hi":2.60},{"m":"GATA-CSM","e":36,"v":2.50,"lo":2.42,"hi":2.58},{"m":"GATA-CSM","e":37,"v":2.48,"lo":2.39,"hi":2.57},{"m":"GATA-CSM","e":38,"v":2.46,"lo":2.37,"hi":2.55},{"m":"GATA-CSM","e":39,"v":2.43,"lo":2.34,"hi":2.52},{"m":"GATA-CSM","e":40,"v":2.405,"lo":2.305,"hi":2.505},{"m":"GATA-CSM","e":41,"v":2.395,"lo":2.295,"hi":2.495},{"m":"GATA-CSM","e":42,"v":2.38,"lo":2.27,"hi":2.49},{"m":"GATA-CSM","e":43,"v":2.365,"lo":2.245,"hi":2.485},{"m":"GATA-CSM","e":44,"v":2.37,"lo":2.25,"hi":2.49},{"m":"GATA-CSM","e":45,"v":2.385,"lo":2.265,"hi":2.505},{"m":"GATA-CSM","e":46,"v":2.39,"lo":2.27,"hi":2.51},{"m":"GATA-CSM","e":47,"v":2.395,"lo":2.275,"hi":2.515},{"m":"GATA-CSM","e":48,"v":2.41,"lo":2.29,"hi":2.53},{"m":"GATA-CSM","e":49,"v":2.43,"lo":2.31,"hi":2.55},{"m":"GATA-CSM","e":50,"v":2.445,"lo":2.325,"hi":2.565}
]
},
"columns":2,
"spacing":{"row":0,"column":8},
"resolve":{"scale":{"stroke":"independent","fill":"independent","x":"independent","y":"independent"},"legend":{"stroke":"independent","fill":"independent"}},
"concat":[
{"title":"Difficulty_1","width":246,"height":183,"data":{"name":"d1"},
 "layer":[
  {"mark":{"type":"area","fillOpacity":0.12,"interpolate":"monotone","clip":true},
   "encoding":{"x":{"field":"e","type":"quantitative","scale":{"domain":[0,50],"nice":false},"axis":{"values":[0,10,20,30,40,50],"tickCount":12,"title":"episodes"}},
    "y":{"field":"lo","type":"quantitative","stack":null,"scale":{"domain":[0.86,3.74],"nice":false,"zero":false},"axis":{"values":[1.0,1.5,2.0,2.5,3.0,3.5],"tickCount":12,"labelOverlap":false,"format":".1f","title":"train game points"}},
    "y2":{"field":"hi"},
    "fill":{"field":"m","type":"nominal","scale":{"domain":["GATA-CSM","GATA-TrufLL","GATA","MIPO"],"range":["#bfbf00","#0000ff","#008000","#ff0000"]},"legend":null}}},
  {"mark":{"type":"line","strokeWidth":1.8,"interpolate":"monotone","clip":true},
   "encoding":{"x":{"field":"e","type":"quantitative"},
    "y":{"field":"v","type":"quantitative"},
    "stroke":{"field":"m","type":"nominal","scale":{"domain":["MIPO","GATA","GATA-TrufLL","GATA-CSM"],"range":["#ff0000","#008000","#0000ff","#bfbf00"]},"legend":{"title":null,"orient":"top-left","offset":4}}}}
 ]},
{"title":"Difficulty_2","width":246,"height":183,"data":{"name":"d2"},
 "layer":[
  {"mark":{"type":"area","fillOpacity":0.12,"interpolate":"monotone","clip":true},
   "encoding":{"x":{"field":"e","type":"quantitative","scale":{"domain":[0,50],"nice":false},"axis":{"values":[0,10,20,30,40,50],"tickCount":12,"title":"episodes"}},
    "y":{"field":"lo","type":"quantitative","stack":null,"scale":{"domain":[1.344,1.978],"nice":false,"zero":false},"axis":{"values":[1.4,1.5,1.6,1.7,1.8,1.9],"tickCount":12,"labelOverlap":false,"format":".1f","title":"train game points"}},
    "y2":{"field":"hi"},
    "fill":{"field":"m","type":"nominal","scale":{"domain":["GATA-CSM","GATA-TrufLL","GATA","MIPO"],"range":["#bfbf00","#0000ff","#008000","#ff0000"]},"legend":null}}},
  {"mark":{"type":"line","strokeWidth":1.8,"interpolate":"monotone","clip":true},
   "encoding":{"x":{"field":"e","type":"quantitative"},
    "y":{"field":"v","type":"quantitative"},
    "stroke":{"field":"m","type":"nominal","scale":{"domain":["MIPO","GATA","GATA-TrufLL","GATA-CSM"],"range":["#ff0000","#008000","#0000ff","#bfbf00"]},"legend":{"title":null,"orient":"top-left","offset":4}}}}
 ]},
{"title":"Difficulty_3","width":246,"height":180,"data":{"name":"d3"},
 "layer":[
  {"mark":{"type":"area","fillOpacity":0.12,"interpolate":"monotone","clip":true},
   "encoding":{"x":{"field":"e","type":"quantitative","scale":{"domain":[0,50],"nice":false},"axis":{"values":[0,10,20,30,40,50],"tickCount":12,"title":"episodes"}},
    "y":{"field":"lo","type":"quantitative","stack":null,"scale":{"domain":[0.563,2.742],"nice":false,"zero":false},"axis":{"values":[0.75,1.0,1.25,1.5,1.75,2.0,2.25,2.5],"tickCount":12,"labelOverlap":false,"format":".2f","title":"train game points"}},
    "y2":{"field":"hi"},
    "fill":{"field":"m","type":"nominal","scale":{"domain":["GATA-CSM","GATA-TrufLL","GATA","MIPO"],"range":["#bfbf00","#0000ff","#008000","#ff0000"]},"legend":null}}},
  {"mark":{"type":"line","strokeWidth":1.8,"interpolate":"monotone","clip":true},
   "encoding":{"x":{"field":"e","type":"quantitative"},
    "y":{"field":"v","type":"quantitative"},
    "stroke":{"field":"m","type":"nominal","scale":{"domain":["MIPO","GATA","GATA-TrufLL","GATA-CSM"],"range":["#ff0000","#008000","#0000ff","#bfbf00"]},"legend":{"title":null,"orient":"top-left","offset":4}}}}
 ]},
{"title":"Difficulty_4","width":246,"height":180,"data":{"name":"d4"},
 "layer":[
  {"mark":{"type":"area","fillOpacity":0.12,"interpolate":"monotone","clip":true},
   "encoding":{"x":{"field":"e","type":"quantitative","scale":{"domain":[0,50],"nice":false},"axis":{"values":[0,10,20,30,40,50],"tickCount":12,"title":"episodes"}},
    "y":{"field":"lo","type":"quantitative","stack":null,"scale":{"domain":[1.643,3.099],"nice":false,"zero":false},"axis":{"values":[1.8,2.0,2.2,2.4,2.6,2.8,3.0],"tickCount":12,"labelOverlap":false,"format":".1f","title":"train game points"}},
    "y2":{"field":"hi"},
    "fill":{"field":"m","type":"nominal","scale":{"domain":["GATA-CSM","GATA-TrufLL","GATA","MIPO"],"range":["#bfbf00","#0000ff","#008000","#ff0000"]},"legend":null}}},
  {"mark":{"type":"line","strokeWidth":1.8,"clip":true},
   "encoding":{"x":{"field":"e","type":"quantitative"},
    "y":{"field":"v","type":"quantitative"},
    "stroke":{"field":"m","type":"nominal","scale":{"domain":["MIPO","GATA","GATA-TrufLL","GATA-CSM"],"range":["#ff0000","#008000","#0000ff","#bfbf00"]},"legend":{"title":null,"orient":"top-left","offset":4}}}}
 ]}
]
}
